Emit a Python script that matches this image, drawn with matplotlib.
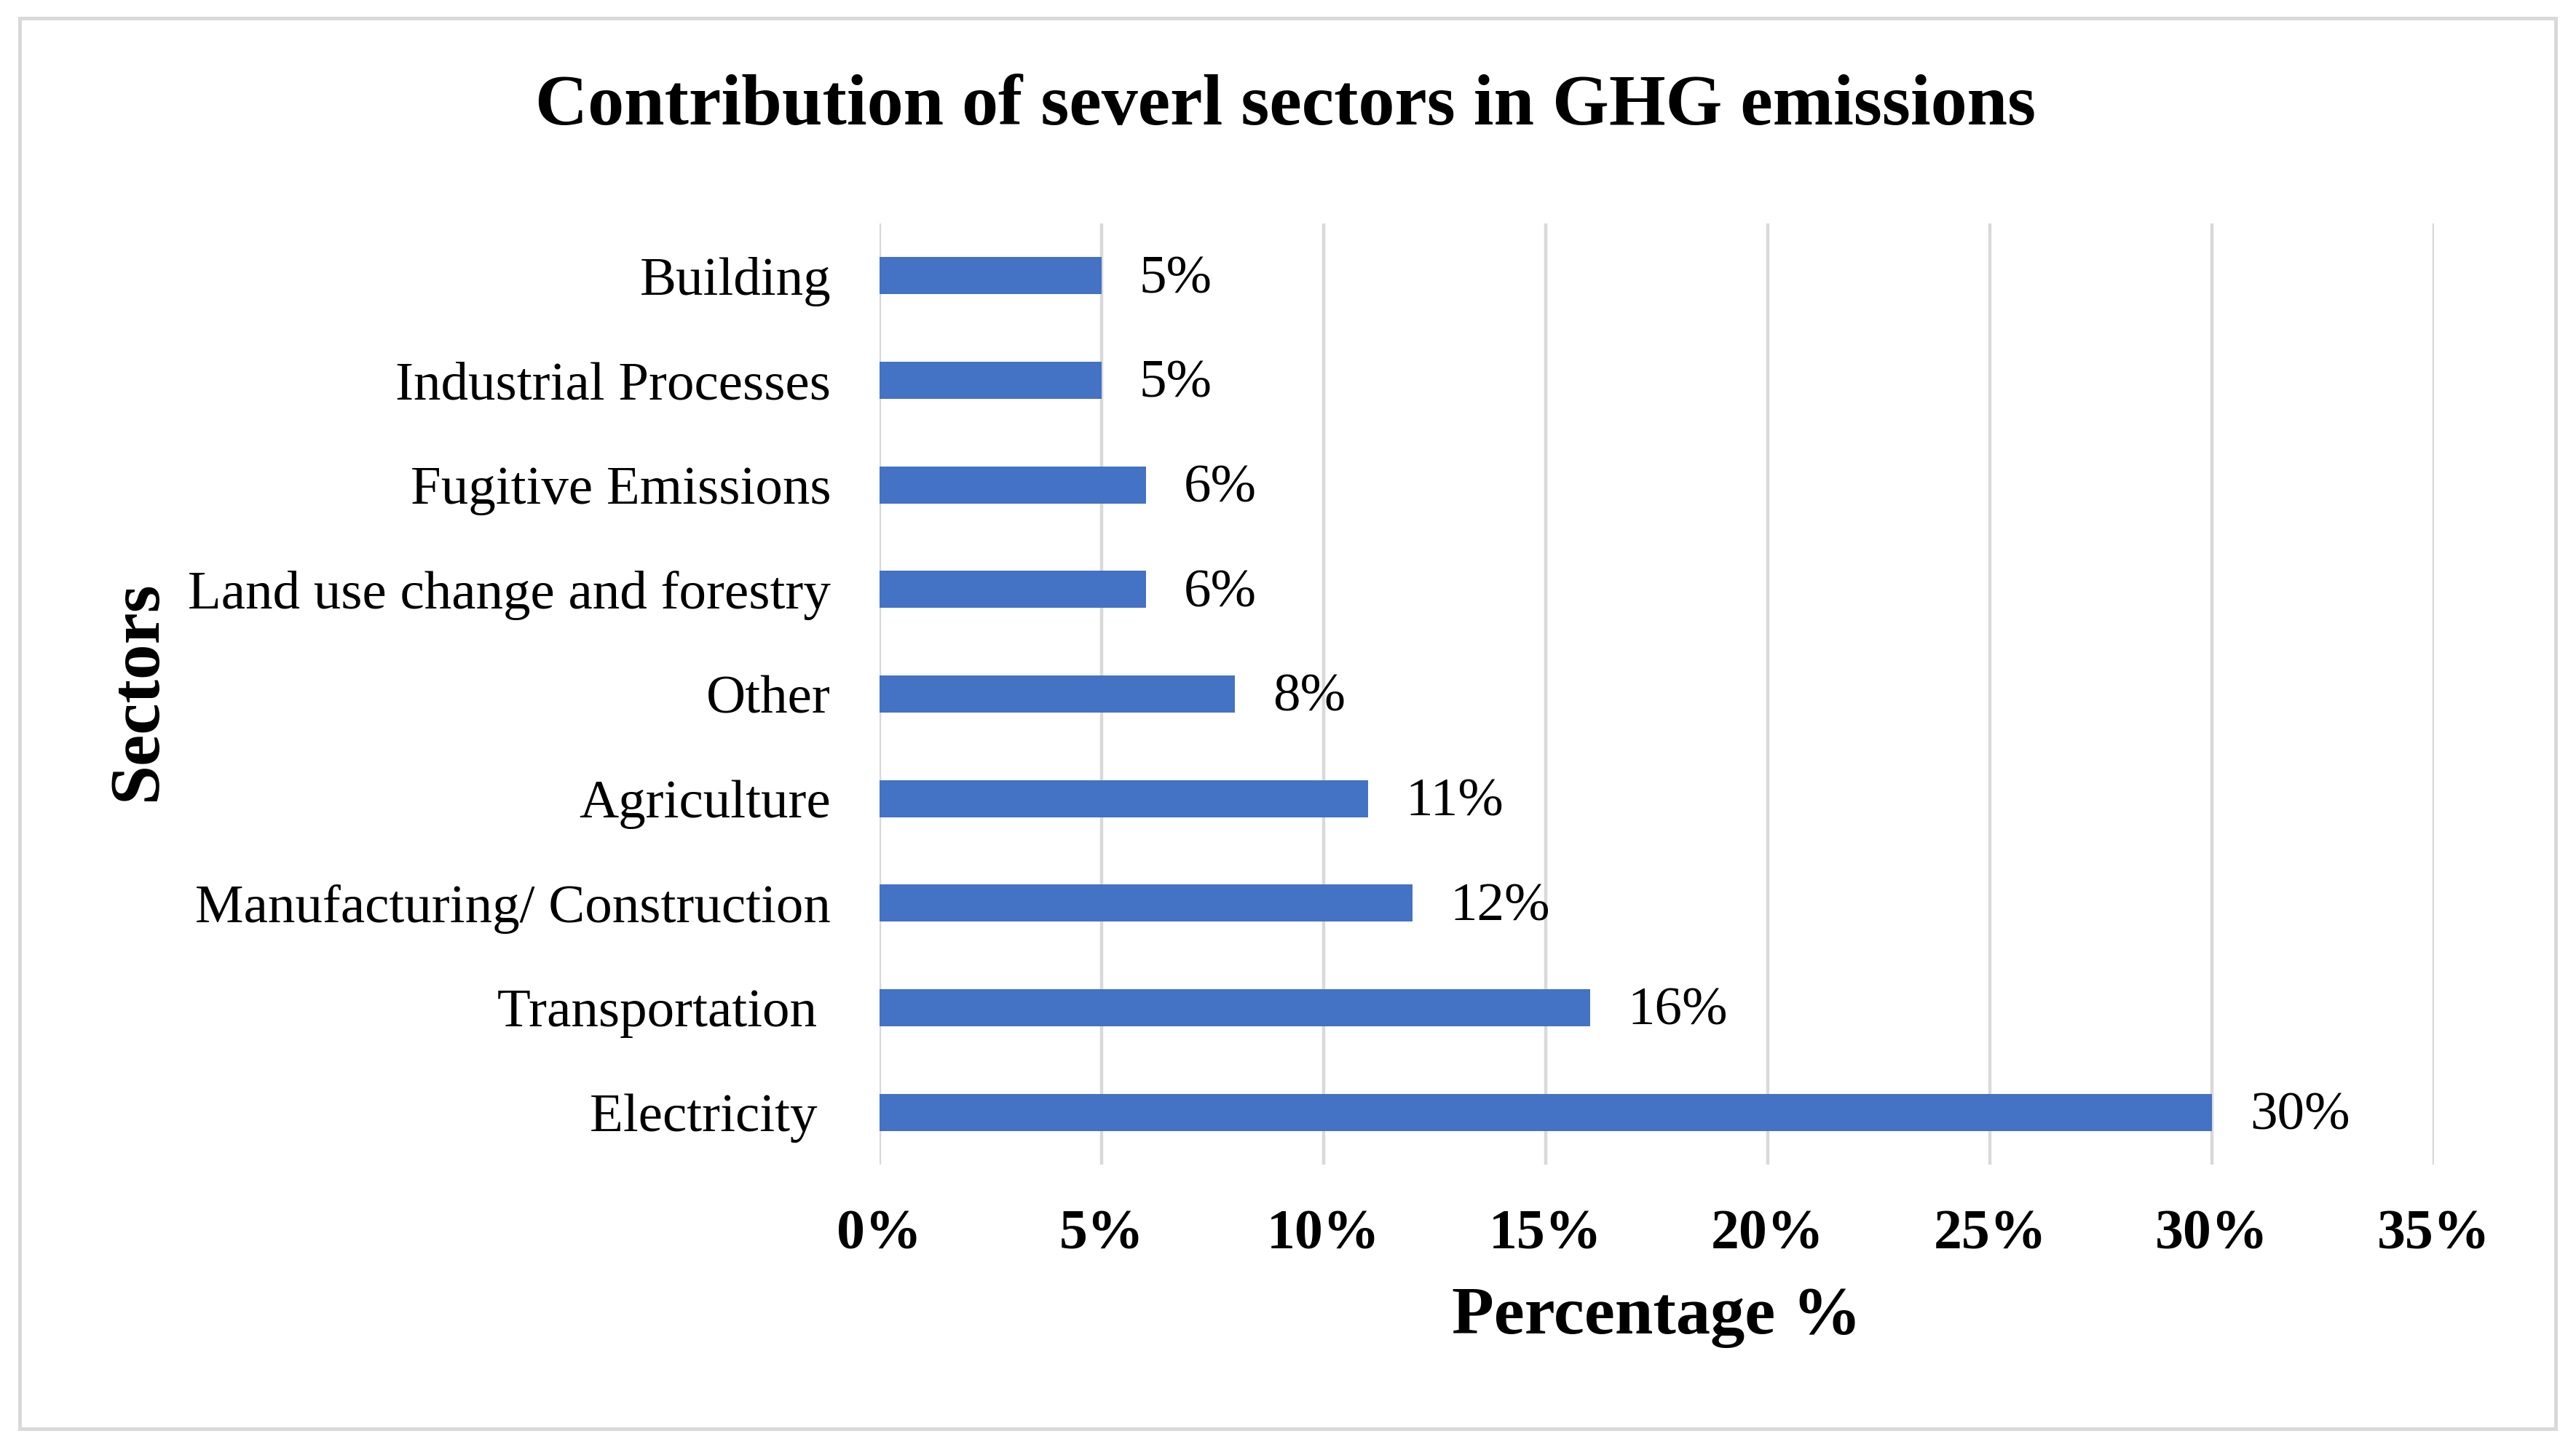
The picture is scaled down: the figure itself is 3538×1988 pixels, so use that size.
import matplotlib
matplotlib.use('Agg')
import matplotlib.pyplot as plt
from matplotlib.patches import Rectangle

# Data (top to bottom as shown)
sectors = ['Building', 'Industrial Processes', 'Fugitive Emissions',
           'Land use change and forestry', 'Other', 'Agriculture',
           'Manufacturing/ Construction', 'Transportation ', 'Electricity ']
values = [5, 5, 6, 6, 8, 11, 12, 16, 30]
xticks = [0, 5, 10, 15, 20, 25, 30, 35]

plt.rcParams['font.family'] = ['Liberation Serif', 'DejaVu Serif']

fig = plt.figure(figsize=(17.69, 9.94), dpi=200)
ax = fig.add_axes([0.3414, 0.1952, 0.6035, 0.6504])

# bars, reversed so the first sector is on top
ypos = list(range(len(sectors)))[::-1]
ax.barh(ypos, values, height=0.355, color='#4472C4', zorder=3)
for y, v in zip(ypos, values):
	ax.text(v + 0.85, y - 0.04, f'{v}%', va='center', ha='left', fontsize=27, zorder=4)

ax.set_xlim(0, 35)
ax.set_ylim(-0.5, len(sectors) - 0.5)
ax.set_xticks(xticks)
ax.set_xticklabels([f'{t}%' for t in xticks], fontsize=28, fontweight='bold')
ax.set_yticks(ypos)
ax.set_yticklabels(sectors, fontsize=27)
ax.tick_params(axis='x', length=0, pad=22)
ax.tick_params(axis='y', length=0, pad=24)

ax.grid(axis='x', color='#D9D9D9', linewidth=1.6, zorder=0)
ax.grid(axis='y', visible=False)
for s in ax.spines.values():
	s.set_visible(False)

# Titles
fig.text(0.499, 0.926, 'Contribution of severl sectors in GHG emissions',
         ha='center', va='center', fontsize=36, fontweight='bold')
fig.text(0.643, 0.09, 'Percentage %', ha='center', va='center',
         fontsize=34, fontweight='bold')
fig.text(0.0537, 0.523, 'Sectors', ha='center', va='center', rotation=90,
         fontsize=35, fontweight='bold')

# outer border
fig.patches.append(Rectangle((0.0076, 0.0126), 0.9844, 0.9748, transform=fig.transFigure,
                             fill=False, edgecolor='#D9D9D9', linewidth=1.8))

fig.savefig('out.png', dpi=200, facecolor='white')
